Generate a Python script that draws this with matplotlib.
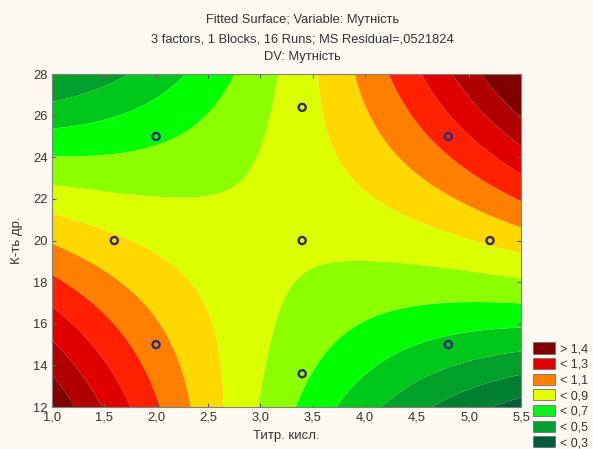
# fitted response surface (Statistica style) for turbidity
import numpy as np
import matplotlib.pyplot as plt
from matplotlib.patches import Patch

plt.rcParams['font.family'] = ['Liberation Sans', 'DejaVu Sans']

# design points (central composite) and the response read at them
titr = [2.0, 4.8, 2.0, 4.8, 1.6, 5.2, 3.4, 3.4, 3.4]
kt = [15.0, 15.0, 25.0, 25.0, 20.0, 20.0, 13.6, 26.4, 20.0]
mutnist = [1.036, 0.572, 0.682, 1.146, 0.916, 0.916, 0.719, 0.859, 0.820]

levels = [-5, 0.3, 0.4, 0.5, 0.6, 0.7, 0.8, 0.9, 1.0, 1.1, 1.2, 1.3, 1.4, 5]
colors = ['#005c3e', '#00802e', '#00a02a', '#00c81a', '#00ff00', '#8cff00',
          '#dcff00', '#ffd800', '#ff8000', '#ff2000', '#e00000', '#b00000', '#800000']
legend_labels = ['> 1,4', '< 1,3', '< 1,1', '< 0,9', '< 0,7', '< 0,5', '< 0,3']
legend_colors = ['#800000', '#e00000', '#ff8000', '#e4ff00', '#10f020', '#00a030', '#005c3e']

# quadratic fit, like the "Fitted Surface" in Statistica
x = np.array(titr)
y = np.array(kt)
X = np.column_stack([np.ones_like(x), x, y, x**2, y**2, x*y])
coef = np.linalg.lstsq(X, np.array(mutnist), rcond=None)[0]

gx, gy = np.meshgrid(np.linspace(1.0, 5.5, 300), np.linspace(12, 28, 300))
gz = (coef[0] + coef[1]*gx + coef[2]*gy + coef[3]*gx**2 + coef[4]*gy**2
      + coef[5]*gx*gy)

bg = '#fdf9f0'
fig = plt.figure(figsize=(5.93, 4.49), dpi=100, facecolor=bg)
ax = fig.add_axes([0.0872, 0.0935, 0.792, 0.7415])
ax.set_facecolor(bg)

ax.contourf(gx, gy, gz, levels=levels, colors=colors, antialiased=True)
ax.scatter(titr, kt, s=26, facecolors='none', edgecolors='#303078', linewidths=1.7, zorder=3)

ax.set_xlim(1.0, 5.5)
ax.set_ylim(12, 28)
ax.set_xticks(np.arange(1.0, 5.51, 0.5))
ax.set_yticks(np.arange(12, 28.1, 2))
ax.set_xticklabels([('%.1f' % v).replace('.', ',') for v in np.arange(1.0, 5.51, 0.5)])
ax.tick_params(direction='in', length=3, top=True, right=True, colors='#606060',
               labelcolor='#333333', labelsize=9.3, pad=3)
for s in ax.spines.values():
    s.set_color('#808080')
    s.set_linewidth(0.8)

ax.set_xlabel('Титр. кисл.', fontsize=9.5, color='#333333', labelpad=5)
ax.set_ylabel('К-ть др.', fontsize=9.5, color='#333333', labelpad=7)

fig.text(0.51, 0.955, 'Fitted Surface; Variable: Мутність', ha='center', va='center', fontsize=9.3, color='#333333')
fig.text(0.51, 0.913, '3 factors, 1 Blocks, 16 Runs; MS Residual=,0521824', ha='center', va='center', fontsize=9.3, color='#333333')
fig.text(0.51, 0.873, 'DV: Мутність', ha='center', va='center', fontsize=9.3, color='#333333')

handles = [Patch(facecolor=c, edgecolor='#707070', linewidth=0.6) for c in legend_colors]
fig.legend(handles, legend_labels, loc='lower left', bbox_to_anchor=(0.888, -0.014),
           frameon=False, fontsize=9, labelspacing=0.22, handlelength=1.8,
           handleheight=1.0, handletextpad=0.4, borderpad=0, labelcolor='#333333')

fig.savefig('out.png', dpi=100, facecolor=bg)
